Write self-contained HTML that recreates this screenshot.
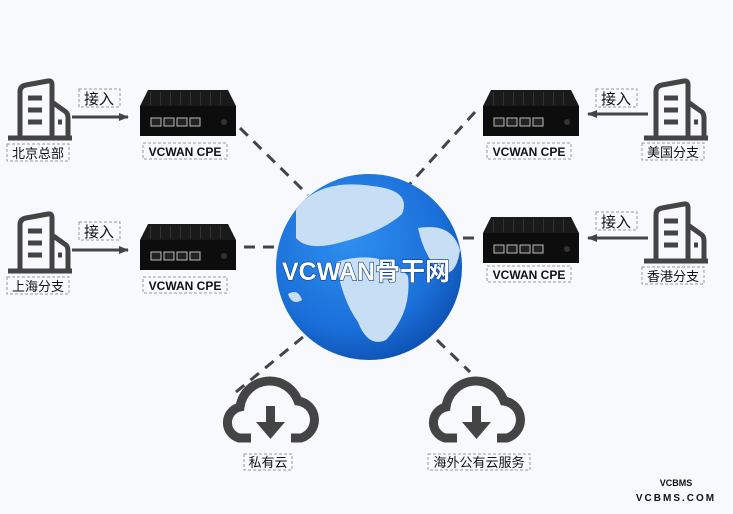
<!DOCTYPE html>
<html><head><meta charset="utf-8"><style>
html,body{margin:0;padding:0;background:#f8f9fc;}
svg{display:block;}
text{font-family:"Liberation Sans","Noto Sans CJK SC",sans-serif;}
</style></head><body>
<svg width="733" height="514" viewBox="0 0 733 514" xmlns="http://www.w3.org/2000/svg">
<defs>
<radialGradient id="g" cx="40%" cy="35%" r="70%">
<stop offset="0" stop-color="#2f8ff0"/><stop offset="0.7" stop-color="#1a6fd8"/><stop offset="1" stop-color="#0c4fb0"/></radialGradient>
<marker id="ar" markerUnits="userSpaceOnUse" markerWidth="10" markerHeight="10" refX="9" refY="5" orient="auto"><path d="M0,1 L10,5 L0,9 z" fill="#444"/></marker>
<g id="dev">
<path d="M8,0 L88,0 L96,16 L0,16 z" fill="#1a1a1a"/>
<rect x="0" y="16" width="96" height="30" fill="#0d0d0d"/>
<g fill="#333"><rect x="10" y="2" width="1" height="13"/><rect x="20" y="2" width="1" height="13"/><rect x="30" y="2" width="1" height="13"/><rect x="40" y="2" width="1" height="13"/><rect x="50" y="2" width="1" height="13"/><rect x="60" y="2" width="1" height="13"/><rect x="70" y="2" width="1" height="13"/><rect x="80" y="2" width="1" height="13"/></g>
<g fill="#222" stroke="#bbb" stroke-width="1"><rect x="11" y="28" width="10" height="8"/><rect x="24" y="28" width="10" height="8"/><rect x="37" y="28" width="10" height="8"/><rect x="50" y="28" width="10" height="8"/></g>
<circle cx="84" cy="32" r="3" fill="#333"/>
</g>
<g id="bld" fill="none" stroke="#444" stroke-width="5">
<path d="M12,58 V12 Q12,6 18,5 L40,1 Q44,0 44,5 V58"/>
<path d="M44,22 L58,32 Q60,34 60,38 V58"/>
<path d="M0,58 H64"/>
<path d="M20,18 H34 M20,30 H34 M20,42 H34 M50,42 H54"/>
</g>
<g id="cld">
<path d="M30,66 H18 A16,16 0 0 1 19,35 A30,30 0 0 1 77,29 A19,19 0 0 1 80,66 H70" fill="none" stroke="#444" stroke-width="9"/>
<rect x="45" y="34" width="9" height="22" fill="#444"/>
<path d="M35,50 L64,50 L49.5,67 z" fill="#444"/>
</g>
</defs>
<g stroke="#444" stroke-width="3" stroke-dasharray="11,8" fill="none">
<line x1="240" y1="128" x2="308" y2="195"/>
<line x1="244" y1="247" x2="280" y2="247"/>
<line x1="475" y1="112" x2="408" y2="186"/>
<line x1="444" y1="238" x2="480" y2="238"/>
<line x1="303" y1="337" x2="236" y2="392"/>
<line x1="437" y1="340" x2="470" y2="372"/>
</g>
<circle cx="369" cy="267" r="93" fill="url(#g)"/>
<path d="M296,210 Q318,178 372,186 Q412,190 402,214 Q382,232 342,242 Q308,252 296,238 z" fill="#c8def4"/>
<path d="M336,262 Q382,248 408,276 Q412,312 386,340 Q368,348 358,322 Q342,300 336,262 z" fill="#c8def4"/>
<path d="M418,228 Q452,222 460,250 Q456,278 440,272 Q424,256 418,228 z" fill="#c8def4"/>
<path d="M288,294 Q298,288 302,300 Q292,306 288,294 z" fill="#c8def4"/>
<text x="366" y="280" text-anchor="middle" font-size="25" font-weight="bold" fill="#fff" stroke="#0b3d88" stroke-width="1.2" paint-order="stroke">VCWAN骨干网</text>
<use href="#bld" x="8" y="80"/>
<line x1="72" y1="117" x2="128" y2="117" stroke="#444" stroke-width="3" marker-end="url(#ar)"/>
<rect x="79" y="89" width="41" height="18" fill="none" stroke="#999" stroke-dasharray="3,2"/>
<text x="99" y="104" text-anchor="middle" font-size="15" fill="#111">接入</text>
<rect x="7" y="144" width="62" height="17" fill="none" stroke="#999" stroke-dasharray="3,2"/>
<text x="38" y="158" text-anchor="middle" font-size="13" fill="#111">北京总部</text>
<use href="#dev" x="140" y="90"/>
<rect x="143" y="143" width="84" height="16" fill="none" stroke="#999" stroke-dasharray="3,2"/>
<text x="185" y="156" text-anchor="middle" font-size="12" font-weight="bold" fill="#111">VCWAN CPE</text>
<use href="#bld" x="8" y="213"/>
<line x1="72" y1="250" x2="128" y2="250" stroke="#444" stroke-width="3" marker-end="url(#ar)"/>
<rect x="79" y="222" width="41" height="18" fill="none" stroke="#999" stroke-dasharray="3,2"/>
<text x="99" y="237" text-anchor="middle" font-size="15" fill="#111">接入</text>
<rect x="7" y="277" width="62" height="17" fill="none" stroke="#999" stroke-dasharray="3,2"/>
<text x="38" y="291" text-anchor="middle" font-size="13" fill="#111">上海分支</text>
<use href="#dev" x="140" y="224"/>
<rect x="143" y="277" width="84" height="16" fill="none" stroke="#999" stroke-dasharray="3,2"/>
<text x="185" y="290" text-anchor="middle" font-size="12" font-weight="bold" fill="#111">VCWAN CPE</text>
<use href="#bld" x="644" y="80"/>
<line x1="648" y1="114" x2="588" y2="114" stroke="#444" stroke-width="3" marker-end="url(#ar)"/>
<rect x="596" y="89" width="41" height="18" fill="none" stroke="#999" stroke-dasharray="3,2"/>
<text x="616" y="104" text-anchor="middle" font-size="15" fill="#111">接入</text>
<rect x="642" y="143" width="62" height="17" fill="none" stroke="#999" stroke-dasharray="3,2"/>
<text x="673" y="157" text-anchor="middle" font-size="13" fill="#111">美国分支</text>
<use href="#dev" x="483" y="90"/>
<rect x="487" y="143" width="84" height="16" fill="none" stroke="#999" stroke-dasharray="3,2"/>
<text x="529" y="156" text-anchor="middle" font-size="12" font-weight="bold" fill="#111">VCWAN CPE</text>
<use href="#bld" x="644" y="203"/>
<line x1="648" y1="238" x2="588" y2="238" stroke="#444" stroke-width="3" marker-end="url(#ar)"/>
<rect x="596" y="212" width="41" height="18" fill="none" stroke="#999" stroke-dasharray="3,2"/>
<text x="616" y="227" text-anchor="middle" font-size="15" fill="#111">接入</text>
<rect x="642" y="267" width="62" height="17" fill="none" stroke="#999" stroke-dasharray="3,2"/>
<text x="673" y="281" text-anchor="middle" font-size="13" fill="#111">香港分支</text>
<use href="#dev" x="483" y="217"/>
<rect x="487" y="266" width="84" height="16" fill="none" stroke="#999" stroke-dasharray="3,2"/>
<text x="529" y="279" text-anchor="middle" font-size="12" font-weight="bold" fill="#111">VCWAN CPE</text>
<use href="#cld" x="221" y="372"/>
<rect x="244" y="454" width="48" height="16" fill="none" stroke="#999" stroke-dasharray="3,2"/>
<text x="268" y="467" text-anchor="middle" font-size="13" fill="#111">私有云</text>
<use href="#cld" x="427" y="372"/>
<rect x="428" y="454" width="102" height="16" fill="none" stroke="#999" stroke-dasharray="3,2"/>
<text x="479" y="467" text-anchor="middle" font-size="13" fill="#111">海外公有云服务</text>
<text x="676" y="486" text-anchor="middle" font-size="9" font-weight="bold" fill="#111">VCBMS</text>
<text x="676" y="501" text-anchor="middle" font-size="10" font-weight="bold" letter-spacing="2" fill="#111">VCBMS.COM</text>
</svg>
</body></html>
